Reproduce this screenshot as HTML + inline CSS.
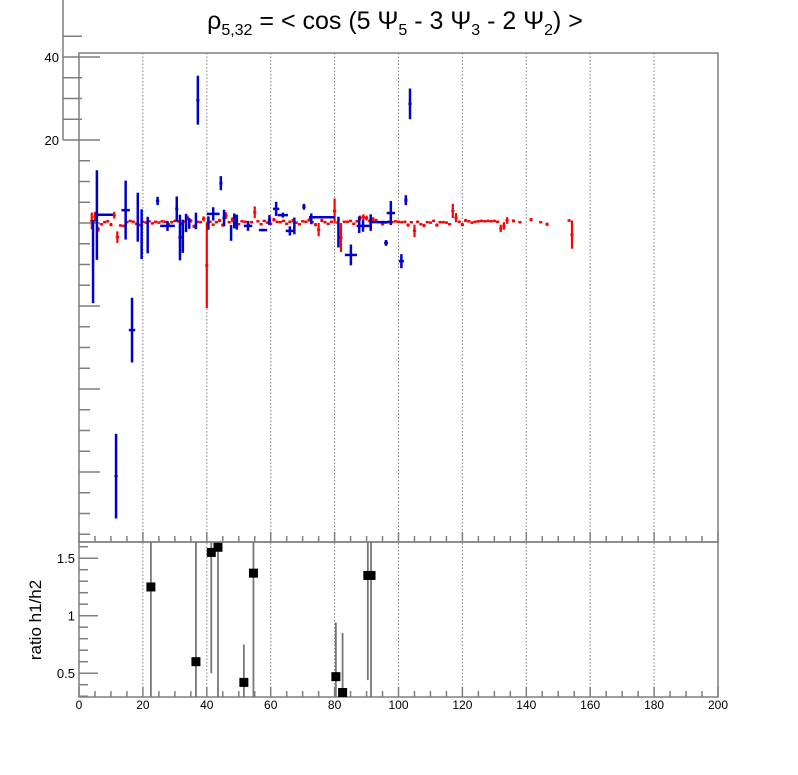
<!DOCTYPE html>
<html><head><meta charset="utf-8"><style>
html,body{margin:0;padding:0;background:#fff;width:798px;height:775px;overflow:hidden;}
svg{display:block;font-family:"Liberation Sans",Arial,sans-serif;}
</style></head><body>
<svg id="chart" width="798" height="775" viewBox="0 0 798 775" xmlns="http://www.w3.org/2000/svg">
<defs>
<clipPath id="clipMain"><rect x="79" y="53" width="639" height="489"/></clipPath>
<clipPath id="clipRatio"><rect x="79" y="542" width="639" height="155"/></clipPath>
</defs>
<text x="395" y="29" font-size="25" text-anchor="middle" fill="#000">ρ<tspan font-size="16" dy="6">5,32</tspan><tspan dy="-6"> = &lt; cos (5 Ψ</tspan><tspan font-size="16" dy="6">5</tspan><tspan dy="-6"> - 3 Ψ</tspan><tspan font-size="16" dy="6">3</tspan><tspan dy="-6"> - 2 Ψ</tspan><tspan font-size="16" dy="6">2</tspan><tspan dy="-6">) &gt;</tspan></text>
<text transform="translate(41,620) rotate(-90)" font-size="17" text-anchor="middle" fill="#000">ratio h1/h2</text>
<g id="grid"></g>
<g id="axes"></g>
<g id="mainData" clip-path="url(#clipMain)"></g>
<g id="ratioData" clip-path="url(#clipRatio)"></g>
</svg>
<script>
// ---- data ----
const xTicks = [0,20,40,60,80,100,120,140,160,180,200];
const yMainLabels = [40,20];
const ratioTicks = [0.5,1,1.5];
const ratioTickLabels = ["0.5","1","1.5"];

const redX = [4,5,6,7,8,9,10,11,12,13,14,15,16,17,18,19,20,21,22,23,24,25,26,27,28,29,30,31,32,33,34,35,36,37,38,39,40,41,42,43,44,45,46,47,48,49,50,51,52,53,54,55,56,57,58,59,60,61,62,63,64,65,66,67,68,69,70,71,72,73,74,75,76,77,78,79,80,81,82,83,84,85,86,87,88,89,90,91,92,93,94,95,96,97,98,99,100,101,102,103,104,105,106,107,108,109,110,111,112,113,114,115,116,117,118,119,120,121,122,123,124,125,126,127,128,129,130,131,132,133,134,136,138,141.5,144.5,146.5,153.4,154.3];
const redY = [0.5,1.5,-1.5,-0.3,0.2,0.4,-0.4,1.9,-3.4,-0.6,
 -0.7,0.2,0.5,0.3,-0.2,-0.5,0.3,0.1,0.4,-0.1,
 0.3,0.1,0.4,0.3,-0.3,0.2,0.5,0.4,-0.2,0.3,
 1.2,0.5,-0.8,0.3,0.2,1.0,-10.2,0.3,-0.4,0.2,
 0.6,-0.5,1.8,0.2,0.8,1.0,-0.3,0.4,0.3,-0.5,
 0.2,2.6,0.4,-0.3,0.5,0.1,-0.2,0.8,0.3,0.2,
 0.5,-0.2,0.3,0.6,0.1,-0.3,0.4,0.3,0.7,0.2,
 -0.4,-1.6,0.6,0.2,-0.2,0.3,2.9,0.1,-3.5,0.3,
 0.3,0.5,-0.2,0.4,1.2,1.4,1.2,0.5,0.9,0.6,
 0.2,-0.3,0.1,0.3,0.2,0.4,0.3,0.2,0.3,-0.5,
 0.2,-1.9,0.3,-0.3,-0.6,0.2,0.1,0.5,-0.5,0.2,
 0.2,0.1,-0.3,2.9,1.3,0.3,-0.4,0.6,0.4,0.1,
 0.3,0.4,0.5,0.4,0.5,0.4,0.5,0.3,-1.3,-0.7,0.6,0.5,0.2,0.8,0.2,-0.3,0.6,-2.8];
const redE = [2.0,1.2,0.6,0.3,0.3,0.3,0.4,0.8,1.4,0.3,
 0.3,0.3,0.3,0.3,0.3,0.3,0.3,0.3,0.3,0.3,
 0.3,0.3,0.3,0.3,0.3,0.3,0.3,0.3,0.3,0.3,
 0.6,0.4,0.4,0.3,0.3,0.6,10.3,0.3,0.3,0.3,
 0.4,0.4,0.8,0.3,0.6,0.5,0.3,0.3,0.3,0.4,
 0.3,1.4,0.3,0.3,0.3,0.3,0.3,0.4,0.3,0.3,
 0.3,0.3,0.3,0.4,0.3,0.3,0.3,0.3,0.4,0.3,
 0.4,1.6,0.4,0.3,0.3,0.3,3.0,0.3,3.5,0.3,
 0.3,0.3,0.3,0.3,0.6,0.7,0.6,0.4,0.5,0.4,
 0.3,0.3,0.3,0.3,0.3,0.3,0.3,0.3,0.3,0.4,
 0.3,1.5,0.3,0.3,0.4,0.3,0.3,0.3,0.4,0.3,
 0.3,0.3,0.3,1.7,1.1,0.3,0.4,0.4,0.3,0.3,
 0.3,0.3,0.3,0.3,0.3,0.3,0.3,0.3,0.9,0.9,0.8,0.4,0.3,0.4,0.3,0.4,0.3,3.4];

const blueX = [4.4,5.6,7.8,11.6,14.6,16.6,18.4,19.6,21.5,24.6,27.7,30.6,31.6,32.5,33.5,34.5,36.6,37.2,40.5,42.0,44.4,45.4,47.6,48.6,49.4,52.9,57.6,59.6,61.7,63.8,66.0,67.4,70.4,72.7,76.0,81.2,85.1,87.7,88.9,91.3,94.8,96.1,97.6,100.9,102.3,103.6];
const blueY = [-9.3,1.9,2.0,-61,3.1,-25.8,1.4,-2.7,-2.9,5.3,-0.7,3.4,-3.5,-3.2,0,-0.1,0.5,29.6,0,2.2,9.6,1.2,-2.4,0.5,0.2,-0.7,-1.7,0.7,3.4,1.9,-1.9,-0.7,3.9,1.0,1.4,-2.2,-7.7,-0.4,-0.7,0.1,0.2,-4.8,2.4,-9.2,5.5,28.7];
const blueE = [10,10.8,0.3,10.2,7.1,7.8,5.9,6,4.4,1,1.2,3,5.5,4,2.2,1.3,2,5.9,1.6,1.6,1.7,2,1.9,1.8,1.8,1.2,0.3,1.2,1.7,0.6,1.1,2,0.7,1.3,0.3,3.7,2.5,2,1.4,2,0.3,0.7,2.9,1.7,1.2,3.7];
const blueXE = [0.3,0.5,2.8,0.5,1.3,1,0.3,0.3,0.3,0.5,2.3,0.5,0.5,0.3,0.3,0.3,0.3,0.5,0.3,2,0.5,0.5,0.3,0.3,0.3,1.3,1.3,0.5,1,1.6,1.3,0.3,0.5,0.3,4,0.3,1.9,0.3,2,0.3,3.1,0.6,1.3,0.8,0.5,0.5];

const ratioX = [22.5,36.6,41.4,43.5,51.6,54.6,80.4,82.5,90.4,91.4];
const ratioY = [1.25,0.6,1.55,1.595,0.42,1.37,0.47,0.31,1.35,1.35];
const ratioE = [1.5,1.5,1.05,1.5,0.33,1.5,0.47,0.54,0.91,1.5];

// ---- scales ----
const X0=79, X1=718, MT=53, MB=542, RB=697;
const clamp=(v,a,b)=>Math.max(a,Math.min(b,v));
const sx = v => X0 + (v-0)/(200-0)*(X1-X0);
const sy = v => clamp(223 - v*4.15, MT, MB);
const sr = v => clamp(615.7 - (v-1)*115, MB, RB);
const NS="http://www.w3.org/2000/svg";
function mk(tag, attrs, parent){const e=document.createElementNS(NS,tag);for(const k in attrs)e.setAttribute(k,attrs[k]);parent.appendChild(e);return e;}
const grid=document.getElementById('grid'), axes=document.getElementById('axes');
const mainG=document.getElementById('mainData'), ratioG=document.getElementById('ratioData');
const AX="#7f7f7f";
const syAxis = v => 223 - v*4.15;

xTicks.forEach(t=>{ if(t===0||t===200) return;
  const l=mk('line',{x1:sx(t),x2:sx(t),y1:MT,y2:RB,stroke:"#808080","stroke-width":1,"stroke-dasharray":"1.5,2"},grid);
  
  
});

let f1=mk('rect',{x:X0,y:MT,width:X1-X0,height:MB-MT,fill:"none",stroke:AX,"stroke-width":1.5},axes);


let f2=mk('rect',{x:X0,y:MB,width:X1-X0,height:RB-MB,fill:"none",stroke:AX,"stroke-width":1.5},axes);



let ua=mk('line',{x1:63,x2:63,y1:0,y2:140,stroke:AX,"stroke-width":1.5},axes);


[45,40,35,30,25,20].forEach(v=>{
  const major = (v%20===0);
  const t=mk('line',{x1:63,x2:major?100:82,y1:syAxis(v),y2:syAxis(v),stroke:AX,"stroke-width":1.5},axes);
  
  
});
yMainLabels.forEach(v=>{
  const t=mk('text',{x:59,y:syAxis(v)+5,"font-size":13,"text-anchor":"end",fill:"#000"},axes);
  t.textContent=v;
  
  
});
for(let v=15; v>=-75; v-=5){
  const major=(v%20===0);
  const t=mk('line',{x1:X0,x2:major?100:90,y1:syAxis(v),y2:syAxis(v),stroke:AX,"stroke-width":1.5},axes);
  
  
}
for(let v=0; v<=200; v+=5){
  const major=(v%20===0);
  [MB,RB].forEach(y0=>{
    const t=mk('line',{x1:sx(v),x2:sx(v),y1:y0,y2:y0-(major?10:6),stroke:AX,"stroke-width":1.5},axes);
    
    
  });
}
xTicks.forEach(v=>{
  const t=mk('text',{x:sx(v),y:709,"font-size":12,"text-anchor":"middle",fill:"#000"},axes);
  t.textContent=v;
  
  
});
for(let i=3;i<=16;i++){
  const v=i/10, major=(i%5===0);
  const t=mk('line',{x1:X0,x2:major?98:88,y1:sr(v),y2:sr(v),stroke:AX,"stroke-width":1.5},axes);
  
  
}
ratioTicks.forEach((v,i)=>{
  const t=mk('text',{x:75,y:sr(v)+5,"font-size":13,"text-anchor":"end",fill:"#000"},axes);
  t.textContent=ratioTickLabels[i];
  
  
});

redX.forEach((x,i)=>{
  const g=mk('g',{},mainG);
  
  
  mk('line',{x1:sx(x),x2:sx(x),y1:sy(redY[i]+redE[i]),y2:sy(redY[i]-redE[i]),stroke:"#ff0000","stroke-width":2.2},g);
  mk('line',{x1:sx(x-0.5),x2:sx(x+0.5),y1:sy(redY[i]),y2:sy(redY[i]),stroke:"#ff0000","stroke-width":2.2},g);
});
blueX.forEach((x,i)=>{
  const g=mk('g',{},mainG);
  
  
  mk('line',{x1:sx(x),x2:sx(x),y1:sy(blueY[i]+blueE[i]),y2:sy(blueY[i]-blueE[i]),stroke:"#0000cc","stroke-width":2.5},g);
  mk('line',{x1:sx(x-blueXE[i]),x2:sx(x+blueXE[i]),y1:sy(blueY[i]),y2:sy(blueY[i]),stroke:"#0000cc","stroke-width":2.5},g);
});
ratioX.forEach((x,i)=>{
  const g=mk('g',{},ratioG);
  
  
  mk('line',{x1:sx(x),x2:sx(x),y1:sr(ratioY[i]+ratioE[i]),y2:sr(ratioY[i]-ratioE[i]),stroke:"#777","stroke-width":1.8},g);
  const cy=sr(ratioY[i]);
  mk('rect',{x:sx(x)-4.5,y:Math.min(cy-4.5,RB-9),width:9,height:9,fill:"#000"},g);
});
</script>
</body></html>
